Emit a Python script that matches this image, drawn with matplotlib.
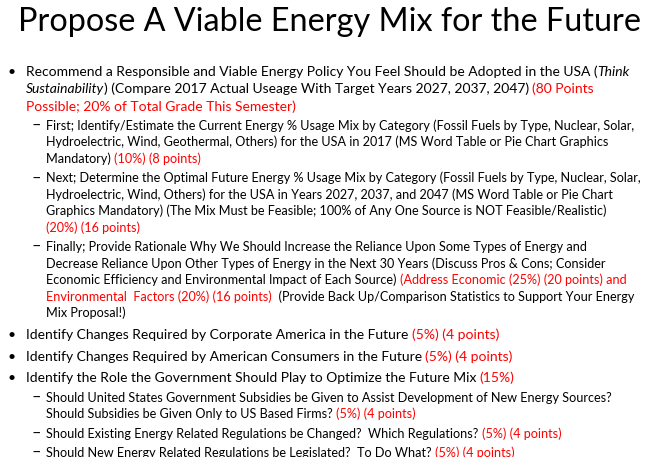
import matplotlib
matplotlib.use("Agg")
import matplotlib.pyplot as plt
from matplotlib.font_manager import FontProperties

FONT = "Lato"
RED = "#ff0000"
BLACK = "#000000"

title = "Propose A Viable Energy Mix for the Future"

# one entry per paragraph: bullet level and its lines
# every line is a list of segments (text, colour, style)
para_levels = [0, 1, 1, 1, 0, 0, 0, 1, 1, 1]
para_lines = [
    [
        [("Recommend a Responsible and Viable Energy Policy You Feel Should be Adopted in the USA (", "k", "normal"),
         ("Think", "k", "italic")],
        [("Sustainability", "k", "italic"),
         (") (Compare 2017 Actual Useage With Target Years 2027, 2037, 2047) ", "k", "normal"),
         ("(80 Points", "r", "normal")],
        [("Possible; 20% of Total Grade This Semester)", "r", "normal")],
    ],
    [
        [("First; Identify/Estimate the Current Energy % Usage Mix by Category (Fossil Fuels by Type, Nuclear, Solar,", "k", "normal")],
        [("Hydroelectric, Wind, Geothermal, Others) for the USA in 2017 (MS Word Table or Pie Chart Graphics", "k", "normal")],
        [("Mandatory) ", "k", "normal"), ("(10%) (8 points)", "r", "normal")],
    ],
    [
        [("Next; Determine the Optimal Future Energy % Usage Mix by Category (Fossil Fuels by Type, Nuclear, Solar,", "k", "normal")],
        [("Hydroelectric, Wind, Others) for the USA in Years 2027, 2037, and 2047 (MS Word Table or Pie Chart", "k", "normal")],
        [("Graphics Mandatory) (The Mix Must be Feasible; 100% of Any One Source is NOT Feasible/Realistic)", "k", "normal")],
        [("(20%) (16 points)", "r", "normal")],
    ],
    [
        [("Finally; Provide Rationale Why We Should Increase the Reliance Upon Some Types of Energy and", "k", "normal")],
        [("Decrease Reliance Upon Other Types of Energy in the Next 30 Years (Discuss Pros & Cons; Consider", "k", "normal")],
        [("Economic Efficiency and Environmental Impact of Each Source) ", "k", "normal"),
         ("(Address Economic (25%) (20 points) and", "r", "normal")],
        [("Environmental  Factors (20%) (16 points)", "r", "normal"),
         ("  (Provide Back Up/Comparison Statistics to Support Your Energy", "k", "normal")],
        [("Mix Proposal!)", "k", "normal")],
    ],
    [
        [("Identify Changes Required by Corporate America in the Future ", "k", "normal"),
         ("(5%) (4 points)", "r", "normal")],
    ],
    [
        [("Identify Changes Required by American Consumers in the Future ", "k", "normal"),
         ("(5%) (4 points)", "r", "normal")],
    ],
    [
        [("Identify the Role the Government Should Play to Optimize the Future Mix ", "k", "normal"),
         ("(15%)", "r", "normal")],
    ],
    [
        [("Should United States Government Subsidies be Given to Assist Development of New Energy Sources?", "k", "normal")],
        [("Should Subsidies be Given Only to US Based Firms? ", "k", "normal"), ("(5%) (4 points)", "r", "normal")],
    ],
    [
        [("Should Existing Energy Related Regulations be Changed?  Which Regulations? ", "k", "normal"),
         ("(5%) (4 points)", "r", "normal")],
    ],
    [
        [("Should New Energy Related Regulations be Legislated?  To Do What? ", "k", "normal"),
         ("(5%) (4 points)", "r", "normal")],
    ],
]

W, H = 663, 457
fig = plt.figure(figsize=(W / 100, H / 100), dpi=100)
ax = fig.add_axes([0, 0, 1, 1])
ax.set_xlim(0, W)
ax.set_ylim(H, 0)
ax.axis("off")
fig.canvas.draw()
rend = fig.canvas.get_renderer()


def prop(size, style="normal"):
    return FontProperties(family=FONT, size=size, style=style)


def ink(s, fp):
    return rend.get_text_width_height_descent(s, fp, ismath=False)[0]


def advance(s, fp):
    # width including spaces at the ends
    return ink("l" + s + "l", fp) - ink("ll", fp)


# fit sizes to the widths seen in the reference
title_size = 20 * 624 / ink(title, prop(20))
ref0 = para_lines[0][0]
w0 = advance(ref0[0][0], prop(10)) + ink(ref0[1][0], prop(10, "italic"))
size0 = 10 * 602.6 / w0
size1 = 10 * 591.3 / ink(para_lines[2][0][0][0], prop(10))
sizes = {0: size0, 1: size1}

ax.text(18, 31, title, fontproperties=prop(title_size), color=BLACK, va="baseline", ha="left")

text_x = {0: 25.7, 1: 46}
mark_x = {0: 12, 1: 36}
marks = {0: "\u2022", 1: "\u2013"}
mark_scale = {0: 1.0, 1: 1.3}
line_step = {0: 17.3, 1: 16.5}
gap = {0: 21.7, 1: 19.4}

y = 76
for i, (lev, lines) in enumerate(zip(para_levels, para_lines)):
    if i > 0:
        y += gap[lev]
    fs = sizes[lev]
    ax.text(mark_x[lev], y, marks[lev], fontproperties=prop(fs * mark_scale[lev]), color=BLACK,
            ha="center", va="baseline")
    for j, line in enumerate(lines):
        if j > 0:
            y += line_step[lev]
        x = text_x[lev]
        for txt, col, style in line:
            fp = prop(fs, style)
            ax.text(x, y, txt, fontproperties=fp, color=RED if col == "r" else BLACK,
                    ha="left", va="baseline")
            x += advance(txt, fp)

fig.savefig("out.png", dpi=100, facecolor="white")
